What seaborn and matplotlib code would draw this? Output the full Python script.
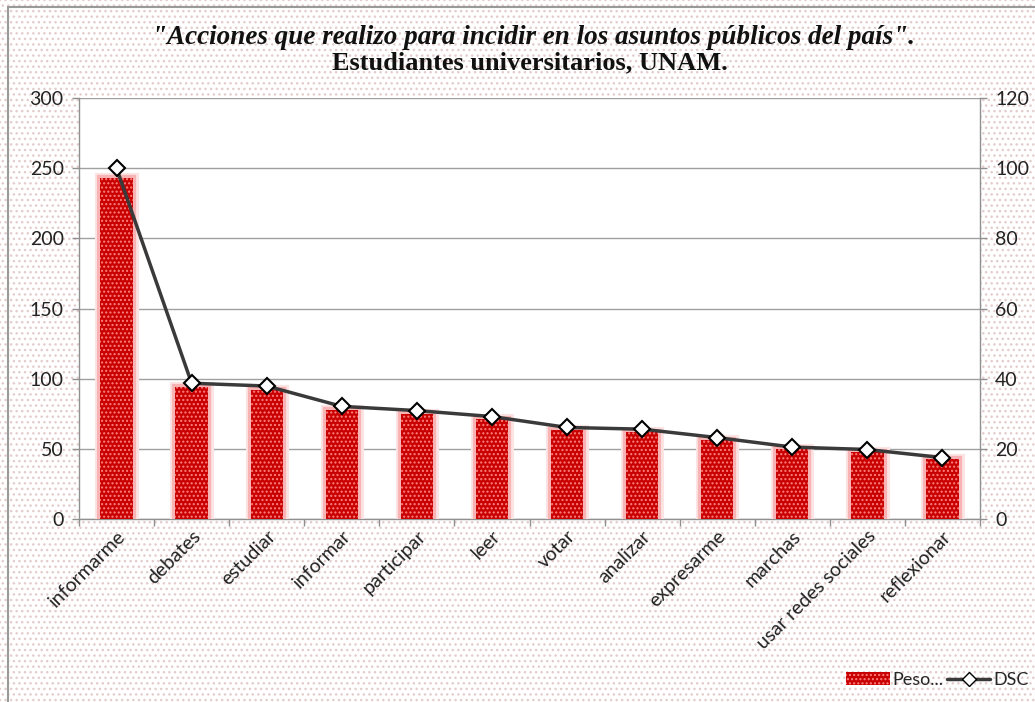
import matplotlib
matplotlib.use("Agg")
import matplotlib.pyplot as plt
from matplotlib.patches import Rectangle, Patch
from matplotlib.lines import Line2D
import matplotlib.patheffects as pe
import seaborn as sns
import numpy as np
import pandas as pd

categorias = ["informarme", "debates", "estudiar", "informar", "participar", "leer",
              "votar", "analizar", "expresarme", "marchas", "usar redes sociales", "reflexionar"]
peso = [243, 94, 92, 78, 75, 71, 63.4, 62.2, 56.3, 49.7, 48, 42.5]
dsc = [100, 38.7, 37.9, 32.1, 30.9, 29.2, 26.1, 25.6, 23.2, 20.5, 19.8, 17.5]
left_ticks = [0, 50, 100, 150, 200, 250, 300]
right_ticks = [0, 20, 40, 60, 80, 100, 120]

df = pd.DataFrame({"cat": categorias, "peso": peso, "dsc": dsc})

sns.set_theme(style="white")
plt.rcParams["font.family"] = ["Lato", "DejaVu Sans"]
plt.rcParams["hatch.linewidth"] = 1.0

fig = plt.figure(figsize=(10.35, 7.02), dpi=100)
fig.patch.set_facecolor("white")
bg = Rectangle((0, 0), 1, 1, transform=fig.transFigure, facecolor="white",
               edgecolor="#e3cccc", hatch="...", linewidth=0, zorder=-10)
fig.patches.append(bg)
border = Rectangle((8 / 1035, -0.1), 1.2, 1 - 7 / 702 + 0.1, transform=fig.transFigure,
                   facecolor="none", edgecolor="#9a9a9a", linewidth=1.5, zorder=-5)
fig.patches.append(border)

ax = fig.add_axes([79 / 1035, 1 - 519 / 702, (980 - 79) / 1035, (519 - 98) / 702])
ax.set_facecolor("white")

sns.barplot(data=df, x="cat", y="peso", ax=ax, color="#c80000", width=0.43,
            saturation=1, linewidth=0, edgecolor="#ff8080", hatch="....", zorder=4)
glow = [pe.withStroke(linewidth=8, foreground="#fde4e4"),
        pe.withStroke(linewidth=4.5, foreground="#f8b4b4"),
        pe.Normal()]
for p in ax.patches:
    p.set_path_effects(glow)

ax.set_ylim(0, 300)
ax.set_xlim(-0.5, len(categorias) - 0.5)
ax.set_yticks(left_ticks)
ax.yaxis.grid(True, color="#a0a0a0", linewidth=1)
ax.set_axisbelow(True)
ax.set_xlabel("")
ax.set_ylabel("")
ax.set_xticks(range(len(categorias)))
ax.set_xticklabels(categorias, rotation=45, ha="right", rotation_mode="anchor",
                   fontsize=14, color="#222222")
ax.set_xticks(np.arange(-0.5, len(categorias), 1), minor=True)
ax.tick_params(axis="x", which="major", length=0, pad=6)
ax.tick_params(axis="x", which="minor", length=5, color="#909090", width=1, bottom=True)
ax.tick_params(axis="y", length=5, color="#909090", width=1, left=True,
               labelsize=14, labelcolor="#222222", pad=6)
for s in ["left", "bottom"]:
    ax.spines[s].set_color("#909090")
    ax.spines[s].set_linewidth(1)
ax.spines["top"].set_visible(False)
ax.spines["right"].set_visible(False)

ax2 = ax.twinx()
sns.pointplot(data=df, x="cat", y="dsc", ax=ax2, color="#3a3a3a", markers="D",
              linestyles="-", markersize=8, linewidth=2.5,
              markerfacecolor="white", markeredgecolor="black", markeredgewidth=1.5,
              zorder=10)
ax2.set_ylim(0, 120)
ax2.set_xlim(-0.5, len(categorias) - 0.5)
ax2.set_yticks(right_ticks)
ax2.set_ylabel("")
ax2.set_xlabel("")
ax2.grid(False)
ax2.tick_params(axis="y", length=5, color="#909090", width=1, right=True,
                labelsize=14, labelcolor="#222222", pad=6)
for s in ["left", "top", "bottom"]:
    ax2.spines[s].set_visible(False)
ax2.spines["right"].set_color("#909090")
ax2.spines["right"].set_linewidth(1)

fig.text(533 / 1035, 1 - 37 / 702, "\"Acciones que realizo para incidir en los asuntos públicos del país\".",
         ha="center", va="center", fontsize=19.5, fontweight="bold", fontstyle="italic",
         family=["Liberation Serif", "DejaVu Serif"], color="#111111")
fig.text(530 / 1035, 1 - 63 / 702, "Estudiantes universitarios, UNAM.",
         ha="center", va="center", fontsize=19, fontweight="bold",
         family=["Liberation Serif", "DejaVu Serif"], color="#111111")

handles = [Patch(facecolor="#c80000", edgecolor="#ff8080", hatch="....", linewidth=0),
           Line2D([], [], color="#3a3a3a", linewidth=2.5, marker="D", markersize=7,
                  markerfacecolor="white", markeredgecolor="black")]
fig.legend(handles, ["Peso...", "DSC"], loc="lower left",
           bbox_to_anchor=(830 / 1035, -0.003), ncol=2, frameon=False,
           handlelength=2.4, handletextpad=0.15, columnspacing=0.2, fontsize=13)

fig.savefig("out.png", dpi=100)
